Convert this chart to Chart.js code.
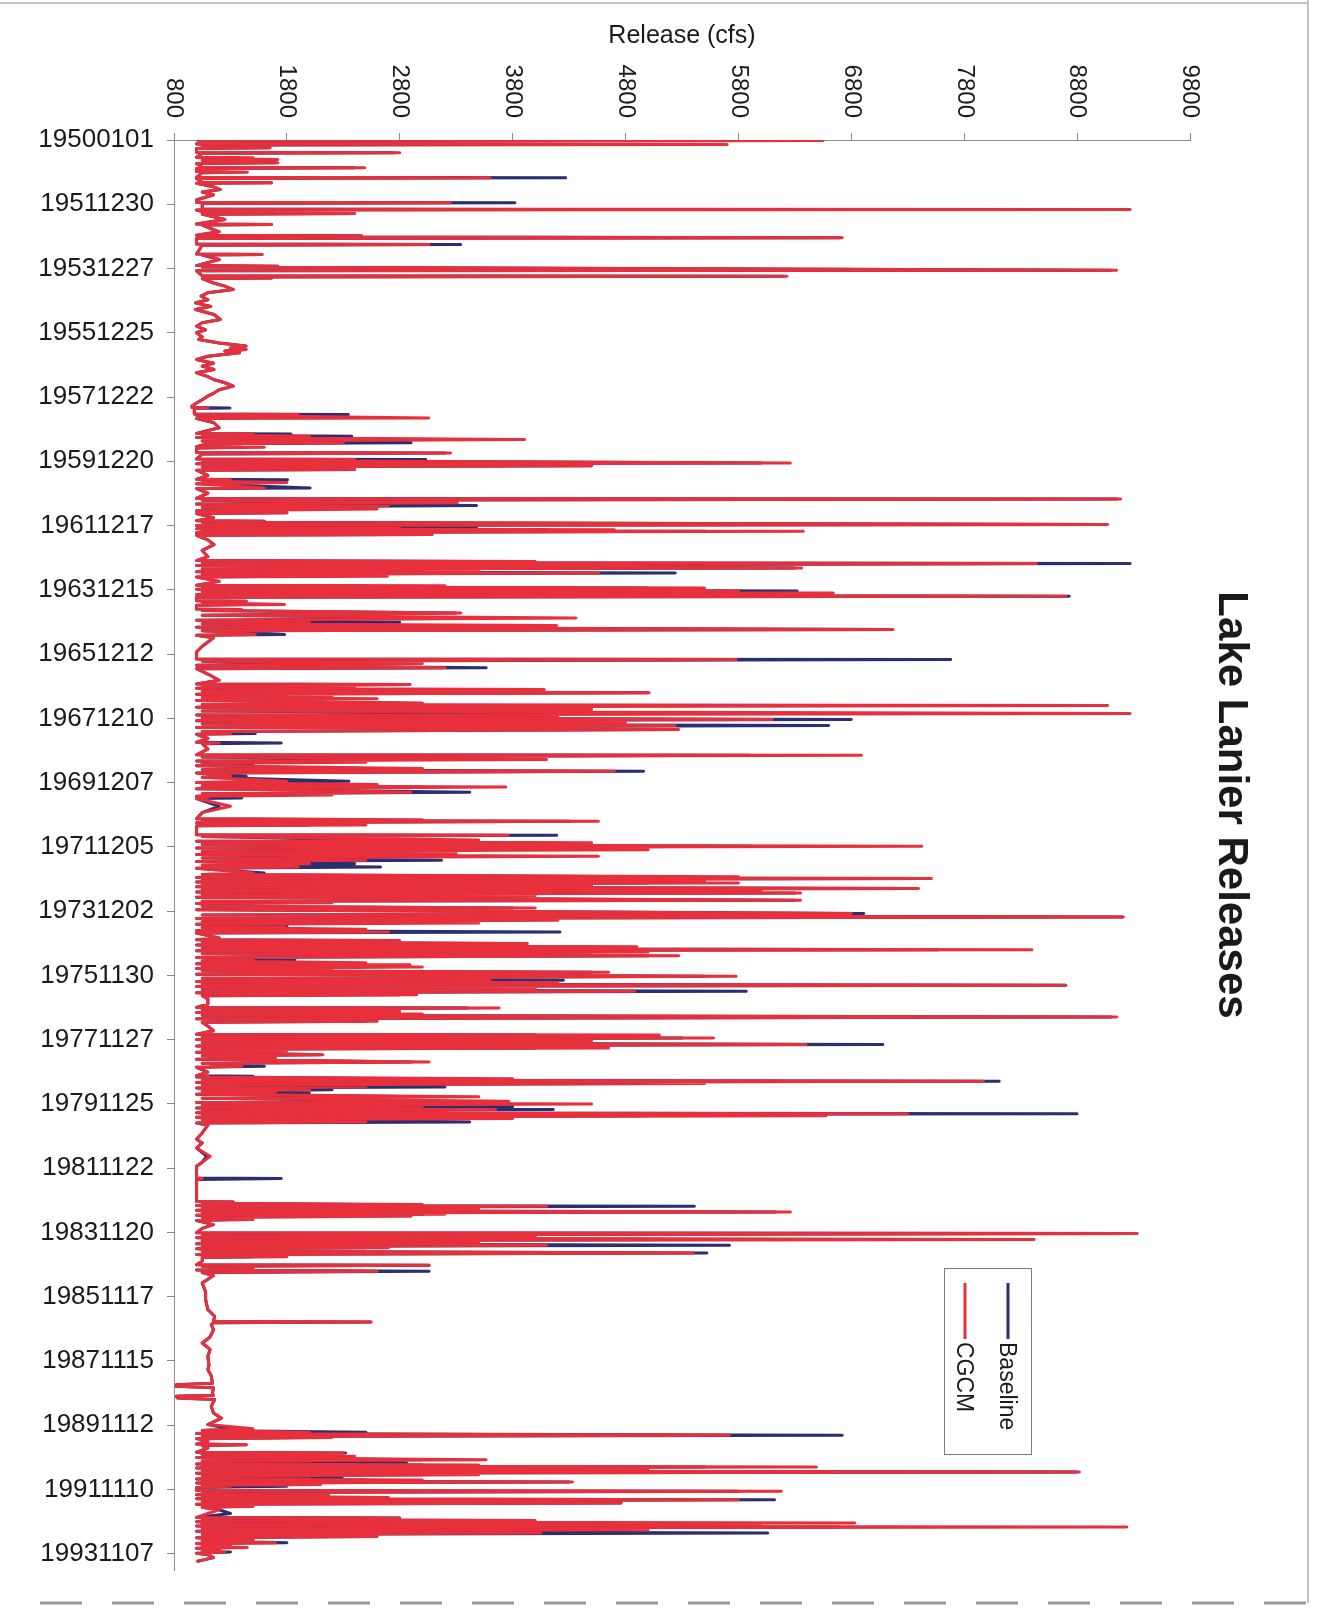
<!DOCTYPE html>
<html>
<head>
<meta charset="utf-8">
<title>Lake Lanier Releases</title>
<script src="https://cdn.jsdelivr.net/npm/chart.js@4.4.1/dist/chart.umd.min.js"></script>
<style>
    html, body { margin: 0; padding: 0; background: #fff; }
    #wrap { width: 1325px; height: 1608px; }
</style>
</head>
<body>
<div id="wrap"><canvas id="releasesChart" width="1325" height="1608"></canvas></div>
<script>
// date labels shown on the category axis (one every 728 days)
const dateLabels = [
    "19500101", "19511230", "19531227", "19551225", "19571222", "19591220", "19611217", "19631215",
    "19651212", "19671210", "19691207", "19711205", "19731202", "19751130", "19771127", "19791125",
    "19811122", "19831120", "19851117", "19871115", "19891112", "19911110", "19931107",
];
const tickEvery = 728;
const releaseTicks = [800, 1800, 2800, 3800, 4800, 5800, 6800, 7800, 8800, 9800];

// days since 1950-01-01
const day = [
    // 1950-51
    0, 6, 14, 44, 51, 58, 83, 89, 95, 139, 145, 151, 195, 200, 210, 221, 230, 259, 266, 309, 315, 322, 358, 364, 370, 423, 429, 436, 479, 485, 491, 530, 561, 590, 620, 680, 706, 712, 719,
    // 1952-53
    781, 787, 794, 827, 833, 840, 900, 951, 957, 963, 1040, 1079, 1085, 1095, 1108, 1115, 1178, 1184, 1191, 1291, 1297, 1303, 1354, 1423, 1429, 1440, 1475, 1482,
    // 1954-55
    1537, 1543, 1552, 1562, 1570, 1620, 1656, 1694, 1730, 1769, 1810, 1845, 1885, 1920, 1977, 2033, 2070, 2109, 2150, 2184,
    // 1956-57
    2230, 2260, 2300, 2335, 2355, 2373, 2390, 2411, 2450, 2486, 2530, 2562, 2600, 2637, 2680, 2713, 2750, 2788, 2830, 2870, 2901,
    // 1958-59
    2950, 2980, 3014, 3030, 3035, 3041, 3104, 3110, 3118, 3148, 3155, 3200, 3260, 3324, 3330, 3342, 3356, 3370, 3394, 3410, 3431, 3440, 3474, 3480, 3490, 3539, 3545, 3556, 3614, 3620, 3630,
    // 1960-61
    3658, 3668, 3690, 3705, 3733, 3740, 3800, 3844, 3850, 3865, 3880, 3895, 3941, 3948, 4000, 4060, 4066, 4080, 4110, 4125, 4141, 4160, 4180, 4200, 4224, 4232, 4280, 4314, 4320, 4330, 4356,
    // 1962-63
    4368, 4394, 4405, 4415, 4424, 4432, 4450, 4470, 4478, 4530, 4583, 4650, 4720, 4765, 4775, 4785, 4798, 4820, 4848, 4860, 4880, 4892, 4904, 4920, 4942, 4950, 5000, 5044, 5050, 5060, 5074, 5090,
    // 1964-65
    5110, 5120, 5131, 5150, 5168, 5180, 5219, 5225, 5240, 5263, 5270, 5314, 5320, 5330, 5358, 5385, 5414, 5440, 5463, 5480, 5501, 5520, 5546, 5560, 5602, 5610, 5640, 5735, 5800,
    // 1966-67
    5880, 5886, 5905, 5930, 5950, 5980, 5990, 6050, 6120, 6163, 6169, 6185, 6200, 6212, 6226, 6245, 6263, 6280, 6300, 6315, 6330, 6350, 6380, 6395, 6407, 6425, 6450, 6470, 6498, 6515, 6530, 6545,
    // 1968-69
    6566, 6580, 6600, 6615, 6634, 6655, 6679, 6700, 6724, 6732, 6780, 6824, 6830, 6840, 6900, 6964, 6970, 6990, 7019, 7035, 7050, 7062, 7075, 7090, 7120, 7135, 7151, 7170, 7208, 7220, 7265, 7280,
    // 1970-71
    7300, 7315, 7329, 7350, 7389, 7405, 7420, 7435, 7453, 7460, 7548, 7620, 7690, 7700, 7710, 7718, 7735, 7760, 7770, 7870, 7876, 7890, 7930, 7945, 7960, 7980, 8001,
    // 1972-73
    8020, 8040, 8060, 8080, 8095, 8114, 8135, 8159, 8175, 8200, 8215, 8235, 8250, 8303, 8320, 8345, 8356, 8367, 8380, 8395, 8405, 8416, 8430, 8445, 8460, 8480, 8492, 8505, 8518, 8530, 8545, 8560, 8580, 8613, 8625, 8640, 8650, 8662, 8680, 8700, 8720,
    // 1974-75
    8764, 8780, 8802, 8820, 8840, 8855, 8870, 8885, 8908, 8920, 8940, 8955, 8972, 8985, 9040, 9060, 9070, 9085, 9104, 9120, 9140, 9155, 9172, 9185, 9200, 9220, 9240, 9260, 9285, 9300, 9320, 9332, 9342, 9355, 9370, 9385, 9398, 9410, 9429, 9450,
    // 1976-77
    9474, 9495, 9519, 9532, 9545, 9560, 9576, 9590, 9610, 9625, 9644, 9660, 9682, 9695, 9730, 9790, 9827, 9833, 9850, 9870, 9885, 9900, 9915, 9935, 9955, 9984, 9995, 10040, 10090, 10130, 10140, 10155, 10173, 10190,
    // 1978-79
    10210, 10228, 10248, 10265, 10286, 10300, 10320, 10335, 10362, 10375, 10400, 10415, 10445, 10460, 10494, 10505, 10560, 10600, 10607, 10615, 10635, 10648, 10664, 10677, 10690, 10705, 10728, 10740, 10760, 10775, 10796, 10810, 10840, 10855, 10890, 10905, 10920,
    // 1980-81
    10935, 10950, 10965, 10984, 10997, 11010, 11020, 11030, 11042, 11055, 11070, 11085, 11100, 11124, 11135, 11160, 11249, 11320, 11362, 11420, 11513, 11580, 11626,
    // 1982-83
    11700, 11760, 11766, 11775, 11890, 11980, 12024, 12030, 12045, 12060, 12070, 12079, 12092, 12110, 12125, 12143, 12155, 12170, 12182, 12193, 12205, 12230, 12240, 12287, 12330, 12380,
    // 1984-85
    12389, 12405, 12420, 12435, 12457, 12470, 12490, 12505, 12521, 12535, 12550, 12560, 12570, 12590, 12608, 12625, 12650, 12660, 12700, 12742, 12748, 12760, 12790, 12800, 12816, 12830, 12865, 12948, 13050,
    // 1986-87
    13137, 13250, 13326, 13384, 13390, 13398, 13420, 13477, 13560, 13628, 13700, 13779,
    // 1988-89
    13880, 13930, 14000, 14085, 14100, 14118, 14135, 14200, 14220, 14232, 14251, 14268, 14345, 14421, 14480, 14553,
    // 1990-91
    14600, 14620, 14640, 14655, 14674, 14688, 14700, 14712, 14740, 14774, 14780, 14790, 14820, 14866, 14874, 14890, 14910, 14925, 14950, 14965, 14988, 15000, 15010, 15020, 15033, 15045, 15060, 15075, 15090, 15105, 15120, 15135, 15158, 15168, 15180, 15192, 15203, 15215, 15230, 15240, 15252, 15265,
    // 1992-94
    15300, 15309, 15322, 15340, 15348, 15355, 15365, 15380, 15392, 15404, 15420, 15442, 15455, 15480, 15490, 15517, 15560, 15605, 15612, 15625, 15640, 15652, 15668, 15680, 15690, 15702, 15714, 15728, 15745, 15760, 15782, 15798, 15820, 15835, 15857, 15870, 15890, 15900, 15914, 15930, 15945, 15955, 15970, 15985, 15995, 16010, 16027, 16060, 16103,
];

// release (cfs), baseline run
const baseline = [
    1000, 6500, 1100, 1000, 4560, 1050, 1050, 1650, 1000, 1000, 2750, 1050, 1000, 1380, 1100, 1380, 1050, 1700, 1000, 1050, 2400, 1000, 1000, 1300, 1050, 1000, 4270, 1000, 1050, 1665, 1000, 1150, 1210, 1050, 1150, 1000, 1000, 3820, 1050,
    1050, 4160, 1000, 1100, 2400, 1050, 1250, 1000, 1665, 1050, 1200, 1000, 2460, 1050, 6700, 1000, 1000, 3340, 1050, 1000, 1580, 1050, 1200, 1000, 1720, 1050, 9100, 1000,
    1050, 6200, 1100, 1665, 1050, 1150, 1250, 1325, 1100, 1040, 1100, 990, 1126, 990, 1154, 1210, 1050, 1000, 1080, 1000,
    1050, 1020, 1200, 1438, 1300, 1438, 1250, 1380, 1100, 1000, 1150, 1050, 1154, 1000, 1100, 1150, 1250, 1325, 1200, 1150, 1100,
    1040, 1000, 960, 960, 1296, 980, 980, 2345, 1000, 1500, 1000, 1150, 1200, 1000, 1836, 1050, 2375, 1000, 3250, 1050, 2900, 1100, 1000, 1400, 1000, 1000, 3200, 1050, 1000, 3030, 1050,
    6000, 1000, 4500, 1050, 2400, 1000, 1100, 1000, 1806, 1050, 1500, 1000, 2006, 1000, 1100, 1000, 9150, 1050, 2500, 1000, 3480, 1050, 2000, 1000, 1800, 1000, 1150, 1000, 1600, 1050, 9050,
    1000, 3480, 1000, 4100, 1050, 5500, 1000, 3085, 1000, 1100, 1154, 1050, 1100, 1000, 3500, 1050, 9270, 1000, 6300, 1050, 3000, 1000, 5240, 1050, 1800, 1000, 1200, 1000, 2500, 1050, 5000, 1000,
    6320, 1050, 6000, 1000, 8730, 1000, 1000, 1440, 1050, 1400, 1000, 1000, 1200, 1050, 3300, 1050, 3500, 1000, 2800, 1050, 3000, 1000, 7100, 1050, 1780, 1000, 1150, 1050, 1000,
    1000, 7680, 1050, 2000, 1000, 3565, 1000, 1100, 1200, 1000, 2890, 1050, 2000, 1000, 2120, 1050, 5000, 1000, 1800, 1050, 2000, 1000, 3000, 1050, 3200, 1000, 4000, 1050, 4840, 1000, 3500, 1050,
    6800, 1000, 4000, 1050, 6600, 1000, 5200, 1050, 1520, 1000, 1100, 1000, 1750, 1050, 1100, 1000, 5900, 1050, 2770, 1000, 1800, 1050, 1500, 1000, 2500, 1050, 4960, 1000, 1440, 1050, 2350, 1000,
    2200, 1050, 3000, 1000, 3420, 1050, 1800, 1000, 1400, 1000, 1200, 1050, 1000, 2600, 1050, 4300, 1000, 2000, 1000, 1000, 4190, 1050, 2800, 1000, 4000, 1050, 5920,
    1000, 3500, 1050, 2500, 1000, 3000, 1050, 3170, 1000, 2400, 1050, 2630, 1000, 1600, 1050, 5000, 1000, 7500, 1050, 4000, 1000, 5000, 1050, 3500, 1000, 7390, 1050, 5500, 1000, 6300, 1050, 3000, 1000, 6300, 1050, 1800, 1000, 1500, 1050, 3800, 1000,
    6910, 1050, 9200, 1000, 3500, 1050, 2800, 1000, 1800, 1050, 2000, 1000, 4220, 1000, 1200, 1000, 2500, 1050, 3700, 1000, 4500, 1050, 7570, 1000, 4500, 1050, 5000, 1000, 1870, 1050, 2000, 1000, 2500, 1050, 2500, 1000, 2000, 1050, 4500, 1000,
    5500, 1050, 4250, 1000, 3500, 1050, 8700, 1000, 3500, 1050, 5870, 1000, 2800, 1050, 1100, 1100, 1000, 3400, 1050, 2200, 1000, 2500, 1050, 9100, 1000, 2500, 1050, 1100, 1150, 1000, 4000, 1050, 5300, 1000,
    4000, 1050, 7080, 1000, 4000, 1050, 1500, 1000, 2100, 1050, 1600, 1000, 2900, 1050, 1600, 1000, 1100, 1000, 1500, 1000, 3000, 1050, 8110, 1000, 5000, 1050, 3200, 1000, 2200, 1050, 2000, 1000, 3000, 1050, 3230, 1000, 3500,
    1050, 3800, 1000, 4160, 1050, 3000, 1000, 8800, 1050, 5000, 1000, 3500, 1050, 3420, 1000, 1100, 1050, 1000, 1050, 1000, 1090, 1050, 1000,
    1000, 1000, 1750, 1000, 1000, 1000, 1000, 1325, 1050, 2500, 1000, 5410, 1050, 3000, 1000, 6130, 1050, 3000, 1000, 2500, 1050, 1300, 1000, 1150, 1050, 1000,
    9330, 1050, 3000, 1000, 5500, 1050, 3000, 1000, 5720, 1050, 2500, 1000, 1500, 1050, 5520, 1000, 1500, 1050, 1050, 1000, 3060, 1050, 1500, 1000, 3060, 1050, 1150, 1050, 1080,
    1080, 1100, 1160, 1150, 2545, 1150, 1130, 1150, 1120, 1050, 1120, 1100,
    1110, 1100, 1130, 1140, 820, 820, 1150, 1140, 1150, 820, 830, 1160, 1130, 1150, 1220, 1100,
    1300, 1050, 2500, 1000, 6720, 1050, 2000, 1000, 1100, 1000, 1440, 1050, 1100, 1000, 2320, 1050, 2000, 1000, 3000, 1050, 2860, 1000, 3000, 1050, 5500, 1000, 4000, 1050, 8800, 1000, 3000, 1050, 2290, 1000, 2500, 1050, 4300, 1000, 1900, 1050, 1800, 1000,
    1000, 5800, 1050, 1800, 1000, 2170, 1050, 2500, 1000, 6120, 1050, 4760, 1000, 1300, 1050, 1200, 1300, 1000, 2800, 1050, 3500, 1000, 4080, 1050, 5000, 1000, 6700, 1050, 4000, 1000, 6060, 1050, 2500, 1000, 1500, 1050, 1800, 1000, 1300, 1050, 1300, 1000, 1200, 1050, 1300, 1000, 1100, 1150, 1000,
];

// release (cfs), CGCM run
const cgcm = [
    1000, 6550, 1100, 1000, 5700, 1050, 1050, 1650, 1000, 1000, 2800, 1050, 1000, 1500, 1100, 1720, 1050, 1720, 1000, 1050, 2490, 1000, 1000, 1450, 1050, 1000, 3600, 1000, 1050, 1665, 1000, 1150, 1210, 1050, 1150, 1000, 1000, 3250, 1050,
    1050, 9270, 1000, 1100, 2400, 1050, 1250, 1000, 1665, 1050, 1200, 1000, 2460, 1050, 6720, 1000, 1000, 3060, 1050, 1000, 1580, 1050, 1200, 1000, 1720, 1050, 9150, 1000,
    1050, 6230, 1100, 1665, 1050, 1150, 1250, 1325, 1100, 1040, 1100, 990, 1126, 990, 1154, 1210, 1050, 1000, 1080, 1000,
    1050, 1020, 1200, 1438, 1300, 1438, 1250, 1380, 1100, 1000, 1150, 1050, 1154, 1000, 1100, 1150, 1250, 1325, 1200, 1150, 1100,
    1040, 1000, 960, 960, 1100, 980, 980, 1900, 1000, 3056, 1000, 1150, 1200, 1000, 1500, 1050, 2000, 1000, 3906, 1050, 2300, 1100, 1000, 1600, 1000, 1000, 3250, 1050, 1000, 2400, 1050,
    6260, 1000, 4500, 1050, 2400, 1000, 1100, 1000, 1300, 1050, 1800, 1000, 1600, 1000, 1100, 1000, 9185, 1050, 3310, 1000, 2700, 1050, 2600, 1000, 1800, 1000, 1150, 1000, 1600, 1050, 9070,
    1000, 2800, 1000, 4700, 1050, 6375, 1000, 3085, 1000, 1100, 1154, 1050, 1100, 1000, 4000, 1050, 8440, 1000, 6360, 1050, 3500, 1000, 4560, 1050, 2690, 1000, 1200, 1000, 3200, 1050, 5500, 1000,
    5800, 1050, 6640, 1000, 8700, 1000, 1000, 1440, 1050, 1780, 1000, 1000, 1400, 1050, 3340, 1050, 4360, 1000, 2000, 1050, 4190, 1000, 7170, 1050, 1520, 1000, 1150, 1050, 1000,
    1000, 5780, 1050, 3000, 1000, 3200, 1000, 1100, 1200, 1000, 2890, 1050, 2400, 1000, 4080, 1050, 5010, 1000, 2200, 1050, 2600, 1000, 3000, 1050, 9070, 1000, 4500, 1050, 9270, 1000, 4200, 1050,
    6100, 1000, 4800, 1050, 5240, 1000, 5270, 1050, 1300, 1000, 1100, 1000, 1200, 1050, 1100, 1000, 6890, 1050, 4100, 1000, 2500, 1050, 1300, 1000, 3000, 1050, 4700, 1000, 1300, 1050, 1800, 1000,
    2600, 1050, 3740, 1000, 2900, 1050, 2200, 1000, 1100, 1000, 1300, 1050, 1000, 3000, 1050, 4560, 1000, 2500, 1000, 1000, 3760, 1050, 3500, 1000, 4500, 1050, 7425,
    1000, 5000, 1050, 3300, 1000, 4560, 1050, 2500, 1000, 2000, 1050, 1900, 1000, 1500, 1050, 5800, 1000, 7510, 1050, 5500, 1000, 5800, 1050, 4500, 1000, 7395, 1050, 6000, 1000, 6350, 1050, 4000, 1000, 6350, 1050, 2200, 1000, 1200, 1050, 4000, 1000,
    6800, 1050, 9210, 1000, 4200, 1050, 3500, 1000, 1780, 1050, 2500, 1000, 2700, 1000, 1200, 1000, 2800, 1050, 3930, 1000, 4900, 1050, 8400, 1000, 5000, 1050, 5270, 1000, 1500, 1050, 2500, 1000, 2890, 1050, 3000, 1000, 2200, 1050, 4650, 1000,
    5780, 1050, 3600, 1000, 4200, 1050, 8700, 1000, 4000, 1050, 4880, 1000, 2950, 1050, 1100, 1100, 1000, 3680, 1050, 2800, 1000, 3000, 1050, 9150, 1000, 2600, 1050, 1100, 1150, 1000, 5100, 1050, 5580, 1000,
    4500, 1050, 6400, 1000, 4650, 1050, 1800, 1000, 2120, 1050, 1700, 1000, 3060, 1050, 1400, 1000, 1100, 1000, 1100, 1000, 3800, 1050, 7970, 1000, 5500, 1050, 2500, 1000, 2000, 1050, 1700, 1000, 3500, 1050, 3765, 1000, 4500,
    1050, 3000, 1000, 3650, 1050, 3200, 1000, 7300, 1050, 6575, 1000, 3800, 1050, 2500, 1000, 1100, 1050, 1000, 1050, 1000, 1120, 1050, 1000,
    1000, 1000, 1050, 1000, 1000, 1000, 1000, 1325, 1050, 3000, 1000, 4100, 1050, 3500, 1000, 6260, 1050, 3200, 1000, 2900, 1050, 1500, 1000, 1150, 1050, 1000,
    9330, 1050, 4000, 1000, 8420, 1050, 3500, 1000, 4100, 1050, 2700, 1000, 1500, 1050, 5400, 1000, 1800, 1050, 1050, 1000, 3060, 1050, 1500, 1000, 2600, 1050, 1150, 1050, 1080,
    1080, 1100, 1160, 1150, 2545, 1150, 1130, 1150, 1120, 1050, 1120, 1100,
    1110, 1100, 1130, 1140, 820, 820, 1150, 1140, 1150, 820, 830, 1160, 1130, 1150, 1220, 1100,
    1500, 1050, 2000, 1000, 5720, 1050, 2200, 1000, 1100, 1000, 1440, 1050, 1100, 1000, 2300, 1050, 2400, 1000, 3565, 1050, 2000, 1000, 3500, 1050, 6490, 1000, 5000, 1050, 8820, 1000, 3500, 1050, 2000, 1000, 3000, 1050, 4330, 1000, 2100, 1050, 1300, 1000,
    1000, 6180, 1050, 2000, 1000, 2170, 1050, 2700, 1000, 5800, 1050, 4760, 1000, 1500, 1050, 1200, 1100, 1000, 2800, 1050, 4000, 1000, 6830, 1050, 6000, 1000, 9240, 1050, 5000, 1000, 4050, 1050, 2600, 1000, 1500, 1050, 1700, 1000, 1300, 1050, 1450, 1000, 1200, 1050, 1250, 1000, 1100, 1150, 1000,
];

if (day.length !== baseline.length || day.length !== cgcm.length) {
    console.error("length mismatch", day.length, baseline.length, cgcm.length);
}

const FONT = "'Liberation Sans', Arial, sans-serif";
const INK = "#1a1a1a";
const AXIS = "#8c8c8c";

// the scan is turned a quarter: draw the value labels, titles and legend turned too
const scanText = {
    id: "scanText",
    afterDraw(chart) {
        const ctx = chart.ctx;
        const xs = chart.scales.x;
        const area = chart.chartArea;

        ctx.save();
        ctx.fillStyle = INK;

        // value tick labels, reading downwards
        ctx.font = "24px " + FONT;
        ctx.textAlign = "right";
        ctx.textBaseline = "middle";
        releaseTicks.forEach((v) => {
            ctx.save();
            ctx.translate(xs.getPixelForValue(v), 118);
            ctx.rotate(Math.PI / 2);
            ctx.fillText(String(v), 0, 0);
            ctx.restore();
        });

        // axis title, flat
        ctx.font = "25px " + FONT;
        ctx.textAlign = "center";
        ctx.fillText("Release (cfs)", (area.left + area.right) / 2, 36);

        // chart title down the right side
        ctx.save();
        ctx.font = "bold 42px " + FONT;
        ctx.translate(1231, 805);
        ctx.rotate(Math.PI / 2);
        ctx.textAlign = "center";
        ctx.fillText("Lake Lanier Releases", 0, 0);
        ctx.restore();

        // legend box
        ctx.strokeStyle = "#7a7a7a";
        ctx.lineWidth = 1;
        ctx.strokeRect(944.5, 1268.5, 87, 186);
        const entries = [
            { text: "Baseline", color: "#2b2e70", x: 1008 },
            { text: "CGCM", color: "#e8303d", x: 965 },
        ];
        ctx.font = "23px " + FONT;
        entries.forEach((e) => {
            ctx.strokeStyle = e.color;
            ctx.lineWidth = 3;
            ctx.beginPath();
            ctx.moveTo(e.x, 1283);
            ctx.lineTo(e.x, 1339);
            ctx.stroke();
            ctx.save();
            ctx.translate(e.x - 2, 1342);
            ctx.rotate(Math.PI / 2);
            ctx.textAlign = "left";
            ctx.textBaseline = "middle";
            ctx.fillStyle = INK;
            ctx.fillText(e.text, 0, 0);
            ctx.restore();
        });

        // page edges of the scan
        ctx.strokeStyle = "#c4c4c4";
        ctx.lineWidth = 2;
        ctx.beginPath();
        ctx.moveTo(0, 3);
        ctx.lineTo(1309, 3);
        ctx.moveTo(1308, 0);
        ctx.lineTo(1308, 1603);
        ctx.stroke();
        ctx.strokeStyle = "#9a9a9a";
        ctx.setLineDash([42, 30]);
        ctx.lineWidth = 3;
        ctx.beginPath();
        ctx.moveTo(40, 1603);
        ctx.lineTo(1325, 1603);
        ctx.stroke();
        ctx.restore();
    },
};

const releasesChart = new Chart(document.getElementById("releasesChart"), {
    type: "line",
    data: {
        datasets: [
            {
                label: "Baseline",
                data: day.map((d, i) => ({ x: baseline[i], y: d })),
                borderColor: "#2b2e70",
                backgroundColor: "#2b2e70",
                order: 2,
            },
            {
                label: "CGCM",
                data: day.map((d, i) => ({ x: cgcm[i], y: d })),
                borderColor: "#e8303d",
                backgroundColor: "#e8303d",
                order: 1,
            },
        ],
    },
    options: {
        responsive: false,
        devicePixelRatio: 1,
        animation: false,
        indexAxis: "y",
        layout: { padding: { top: 0, left: 0, right: 135, bottom: 38 } },
        elements: {
            line: { borderWidth: 3, tension: 0, borderJoinStyle: "round" },
            point: { radius: 0, hoverRadius: 0 },
        },
        scales: {
            x: {
                type: "linear",
                position: "top",
                min: 800,
                max: 9800,
                ticks: { stepSize: 1000, display: false },
                grid: { drawOnChartArea: false, tickLength: 7, color: AXIS },
                border: { color: AXIS, width: 1 },
                afterFit: (scale) => {
                    scale.height = 140;
                },
            },
            y: {
                type: "linear",
                reverse: true,
                min: 0,
                max: 16200,
                afterBuildTicks: (scale) => {
                    scale.ticks = dateLabels.map((_, i) => ({ value: i * tickEvery }));
                },
                ticks: {
                    autoSkip: false,
                    padding: 13,
                    color: INK,
                    font: { family: FONT, size: 26 },
                    callback: (value, index) => dateLabels[index],
                },
                grid: { drawOnChartArea: false, tickLength: 7, color: AXIS },
                border: { color: AXIS, width: 1 },
                afterFit: (scale) => {
                    scale.width = 174;
                },
            },
        },
        plugins: {
            legend: { display: false },
            tooltip: { enabled: false },
            title: { display: false },
        },
    },
    plugins: [scanText],
});
</script>
</body>
</html>
